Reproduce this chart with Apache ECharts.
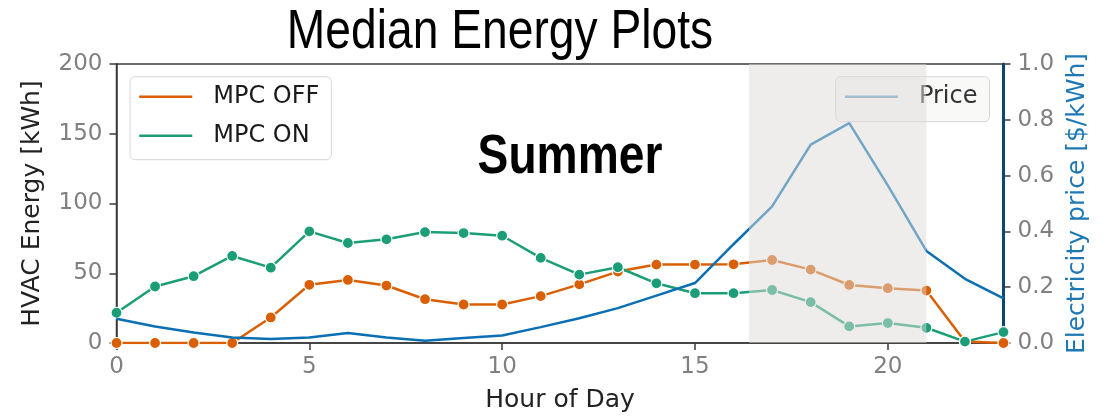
<!DOCTYPE html>
<html>
<head>
<meta charset="utf-8">
<script src="https://cdn.jsdelivr.net/npm/echarts@6/dist/echarts.min.js"></script>
<style>
html,body{margin:0;padding:0;background:#fff;}
#chart{width:1109px;height:418px;}
</style>
</head>
<body>
<div id="chart"></div>
<script>
// ---- data ----
const hours = [0,1,2,3,4,5,6,7,8,9,10,11,12,13,14,15,16,17,18,19,20,21,22,23];
const mpcOff = [0,0,0,0,18.3,41.7,45.2,41.2,31.4,27.6,27.6,33.6,42,51.2,56.2,56.2,56.4,59.5,52.6,41.6,39.3,37.6,1,0];
const mpcOn = [21.7,40.5,47.9,62.4,54,80,71.7,74.3,79.5,78.8,76.9,61,49,54.3,42.8,35.7,35.7,38,29.3,11.9,14.3,10.9,1,7.8];
const price = [0.087,0.059,0.038,0.02,0.014,0.02,0.036,0.02,0.008,0.018,0.027,0.057,0.089,0.125,0.17,0.215,0.354,0.49,0.711,0.788,0.565,0.33,0.23,0.16];
const peakWindow = [16.4, 21];
const energyTicks = [0, 200, 50];
const priceTicks = [0, 1, 0.2];
const hourTicks = [0, 23, 5];
const seriesNames = ['MPC OFF', 'MPC ON', 'Price'];
const titleText = 'Median Energy Plots';
const seasonText = 'Summer';

const pair = (arr) => hours.map((h, i) => [h, arr[i]]);
const chart = echarts.init(document.getElementById('chart'), null, {renderer: 'canvas'});
const tickFont = {fontSize: 23, color: '#808080', fontFamily: 'DejaVu Sans'};
const spine = '#3a3a3a';

const option = {
  animation: false,
  backgroundColor: '#ffffff',
  grid: {left: 116.5, right: 105.5, top: 64, bottom: 73.7, show: true, borderColor: spine, borderWidth: 1.5, backgroundColor: 'transparent'},
  graphic: [
    {type: 'text', x: 500, y: 33, scaleX: 0.84, z: 20, style: {text: titleText, fill: '#000', font: 'normal 55px "Liberation Sans", Arial, sans-serif', textAlign: 'center', textVerticalAlign: 'middle', verticalAlign: 'middle'}},
    {type: 'text', x: 570, y: 158, scaleX: 0.84, z: 20, style: {text: seasonText, fill: '#000', font: 'bold 55px "Liberation Sans", Arial, sans-serif', textAlign: 'center', textVerticalAlign: 'middle', verticalAlign: 'middle'}}
  ],
  legend: [
    {
      data: [
        {name: seriesNames[0], itemStyle: {opacity: 0}, lineStyle: {width: 2.5, color: '#d95f02'}},
        {name: seriesNames[1], itemStyle: {opacity: 0}, lineStyle: {width: 2.5, color: '#1b9e77'}}
      ],
      orient: 'vertical', left: 130, top: 76.7,
      itemWidth: 53, itemHeight: 14, itemGap: 13,
      padding: [7, 12, 11, 8],
      backgroundColor: 'rgba(255,255,255,0.85)', borderColor: '#d6d6d6', borderWidth: 1, borderRadius: 5,
      textStyle: {fontSize: 24, color: '#1a1a1a', fontFamily: 'DejaVu Sans', lineHeight: 26, padding: [0, 0, 0, 16]}
    },
    {
      data: [{name: seriesNames[2], itemStyle: {opacity: 0}, lineStyle: {width: 2.5, color: '#6aa0c9'}}],
      orient: 'vertical', left: 835.7, top: 76.7,
      itemWidth: 53, itemHeight: 14,
      padding: [7, 12, 12, 8],
      backgroundColor: 'rgba(248,248,247,0.9)', borderColor: '#d6d6d6', borderWidth: 1, borderRadius: 5,
      textStyle: {fontSize: 24, color: '#333', fontFamily: 'DejaVu Sans', lineHeight: 26, padding: [0, 0, 0, 16]}
    }
  ],
  xAxis: {
    type: 'value', min: hourTicks[0], max: hourTicks[1], interval: hourTicks[2],
    axisLine: {show: true, lineStyle: {color: spine, width: 1.5}},
    axisTick: {show: true, length: 7, lineStyle: {color: spine, width: 1.5}},
    axisLabel: Object.assign({margin: 13, showMaxLabel: false}, tickFont),
    splitLine: {show: false},
    name: 'Hour of Day', nameLocation: 'middle', nameGap: 45,
    nameTextStyle: {fontSize: 25, color: '#222', fontFamily: 'DejaVu Sans'}
  },
  yAxis: [
    {
      type: 'value', position: 'left', min: energyTicks[0], max: energyTicks[1], interval: energyTicks[2],
      axisLine: {show: true, lineStyle: {color: spine, width: 1.5}},
      axisTick: {show: true, length: 7, lineStyle: {color: spine, width: 1.5}},
      axisLabel: Object.assign({margin: 14}, tickFont),
      splitLine: {show: false},
      name: 'HVAC Energy [kWh]', nameLocation: 'middle', nameGap: 72,
      nameTextStyle: {fontSize: 25, color: '#222', fontFamily: 'DejaVu Sans'}
    },
    {
      type: 'value', position: 'right', min: priceTicks[0], max: priceTicks[1], interval: priceTicks[2],
      axisLine: {show: true, lineStyle: {color: '#0b4773', width: 3}},
      axisTick: {show: true, length: 7, lineStyle: {color: spine, width: 1.5}},
      axisLabel: Object.assign({margin: 14, formatter: (v) => v.toFixed(1)}, tickFont),
      splitLine: {show: false},
      name: 'Electricity price [$/kWh]', nameLocation: 'middle', nameGap: 57,
      nameTextStyle: {fontSize: 25, color: '#1f78b4', fontFamily: 'DejaVu Sans'}
    }
  ],
  series: [
    {
      name: seriesNames[0], type: 'line', yAxisIndex: 0, data: pair(mpcOff), z: 3,
      color: '#d95f02', symbol: 'circle', symbolSize: 11, showSymbol: true,
      itemStyle: {color: '#d95f02', borderColor: '#ffffff', borderWidth: 1.2},
      lineStyle: {width: 2.5, color: '#d95f02'}
    },
    {
      name: seriesNames[1], type: 'line', yAxisIndex: 0, data: pair(mpcOn), z: 3,
      color: '#1b9e77', symbol: 'circle', symbolSize: 11, showSymbol: true,
      itemStyle: {color: '#1b9e77', borderColor: '#ffffff', borderWidth: 1.2},
      lineStyle: {width: 2.5, color: '#1b9e77'}
    },
    {
      name: seriesNames[2], type: 'line', yAxisIndex: 1, data: pair(price), z: 4,
      color: '#0a6fb3', symbol: 'none', showSymbol: false,
      lineStyle: {width: 2.5, color: '#0a6fb3'}
    },
    {
      name: 'peak', type: 'line', yAxisIndex: 0, data: [], z: 8, silent: true,
      markArea: {
        silent: true, z: 8,
        itemStyle: {color: 'rgba(222,219,215,0.5)'},
        data: [[{xAxis: peakWindow[0]}, {xAxis: peakWindow[1]}]]
      }
    }
  ]
};
chart.setOption(option);
</script>
</body>
</html>
